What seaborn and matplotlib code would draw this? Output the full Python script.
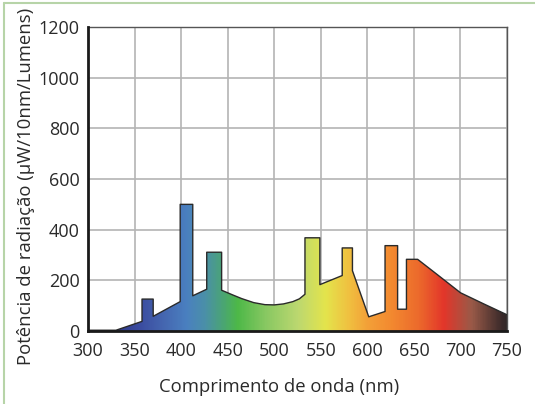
import numpy as np
import pandas as pd
import matplotlib
matplotlib.use("Agg")
import matplotlib.pyplot as plt
import seaborn as sns
from matplotlib.colors import LinearSegmentedColormap
from matplotlib.lines import Line2D

# spectrum outline (wavelength nm, power µW/10nm/lumen)
wavelength = [300, 330, 358, 358, 370, 370, 399, 399, 412.5, 412.5, 427.5, 427.5,
              443.5, 443.5, 455, 465, 478, 490, 500, 510, 520, 527, 533, 533,
              549, 549, 573, 573, 584, 584, 601.5, 619, 619, 632.5, 632.5, 642,
              642, 654, 675, 700, 725, 750]
power = [3, 3, 38, 126, 126, 58, 116, 500, 500, 139, 165, 311,
         311, 161, 143, 128, 112, 104, 103, 107, 116, 127, 145, 368,
         368, 183, 219, 328, 328, 238, 56, 77, 337, 337, 86, 86,
         283, 283, 223, 151, 107, 64]

# colour stops of the spectrum fill
stop_nm = [300, 330, 355, 380, 405, 425, 440, 460, 490, 525, 555, 580, 600,
           625, 655, 682, 712, 745, 750]
stop_col = ["#2b3370", "#2e3a8a", "#3b4ca0", "#4566b0", "#4a80c0", "#4a90a8",
            "#4aa080", "#4db848", "#88c862", "#bcd870", "#e4e44c", "#f0c040",
            "#f3a038", "#f38a30", "#ec6a2c", "#e3362a", "#9a5a48", "#3a2a2a",
            "#302828"]

x_ticks = [300, 350, 400, 450, 500, 550, 600, 650, 700, 750]
y_ticks = [0, 200, 400, 600, 800, 1000, 1200]

sns.set_style("whitegrid")
plt.rcParams['font.family'] = ['Open Sans', 'DejaVu Sans']

df = pd.DataFrame({"nm": wavelength, "pw": power})

fig = plt.figure(figsize=(5.35, 4.04), dpi=100)
ax = fig.add_axes([0.1645, 0.1807, 0.7832, 0.7523])

# gradient fill clipped to the spectrum polygon
pos = [(v - 300) / 450 for v in stop_nm]
cmap = LinearSegmentedColormap.from_list("spec", list(zip(pos, stop_col)))
poly = ax.fill_between(df["nm"], 0, df["pw"], color="none", lw=0)
grad = np.linspace(0, 1, 600).reshape(1, -1)
img = ax.imshow(grad, cmap=cmap, extent=[300, 750, 0, 1200], aspect="auto",
                origin="lower", zorder=2)
img.set_clip_path(poly.get_paths()[0], transform=ax.transData)

sns.lineplot(data=df, x="nm", y="pw", sort=False, estimator=None,
             color="#2a2a2a", lw=1.0, ax=ax, zorder=3)

ax.set_xlim(300, 750)
ax.set_ylim(0, 1200)
ax.set_xticks(x_ticks)
ax.set_yticks(y_ticks)
ax.grid(True, color="#b4b4b4", lw=1.2)
ax.set_axisbelow(True)
ax.tick_params(length=0, labelsize=13, colors="#2a2a2a")
ax.tick_params(axis="x", pad=8)
ax.tick_params(axis="y", pad=6)

for s in ["top", "right"]:
    ax.spines[s].set_color("#555555")
    ax.spines[s].set_linewidth(1.0)
for s in ["left", "bottom"]:
    ax.spines[s].set_color("#1a1a1a")
    ax.spines[s].set_linewidth(2.0)
    ax.spines[s].set_zorder(4)

ax.set_xlabel("Comprimento de onda (nm)", fontsize=13.3, color="#2a2a2a")
ax.set_ylabel("Potência de radiação (µW/10nm/Lumens)", fontsize=13.3,
              color="#2a2a2a")
ax.xaxis.set_label_coords(0.456, -0.155)
ax.yaxis.set_label_coords(-0.126, 0.477)

# light green frame on top and left
fig.add_artist(Line2D([4 / 535, 1], [1 - 3 / 404, 1 - 3 / 404],
                      transform=fig.transFigure, color="#b7d4a8", lw=1.5))
fig.add_artist(Line2D([4 / 535, 4 / 535], [0, 1 - 3 / 404],
                      transform=fig.transFigure, color="#b7d4a8", lw=1.5))

fig.savefig("out.png", dpi=100)
